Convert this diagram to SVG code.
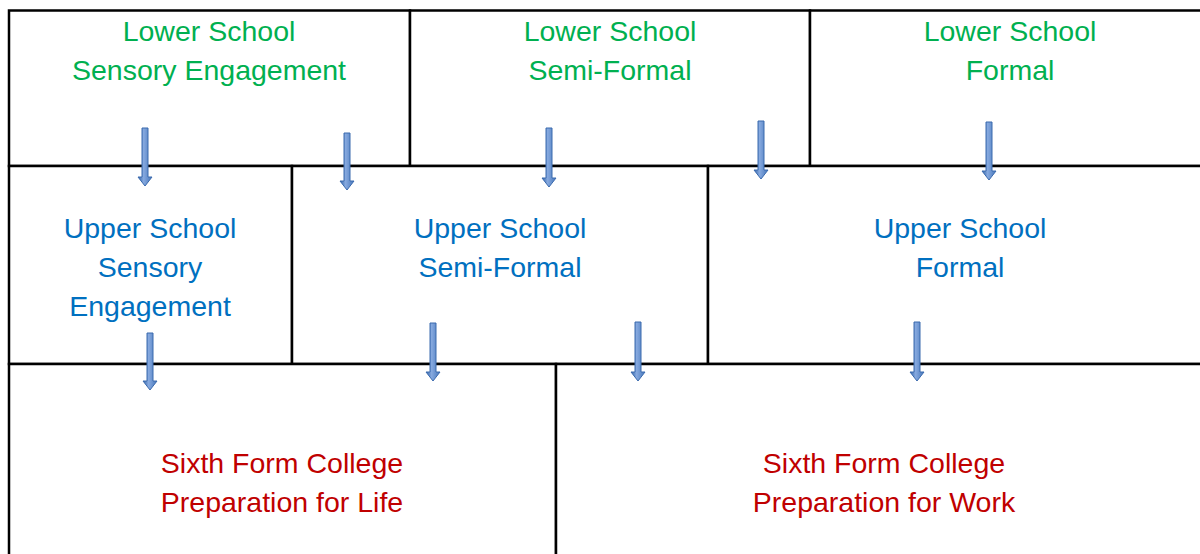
<svg xmlns="http://www.w3.org/2000/svg" width="1200" height="554" viewBox="0 0 1200 554">
<defs>
<linearGradient id="ag" x1="0" y1="0" x2="1" y2="0">
<stop offset="0" stop-color="#3464a8"/>
<stop offset="0.4" stop-color="#86a9df"/>
<stop offset="1" stop-color="#4676ba"/>
</linearGradient>
<style>
.box{fill:#ffffff;stroke:#000000;stroke-width:2.5}
.t{font-family:"Liberation Sans",Arial,sans-serif;font-size:28.5px;text-anchor:middle}
.g{fill:#00b050}
.b{fill:#0070c0}
.r{fill:#c00000}
.arr{fill:url(#ag);stroke:#3a6aae;stroke-width:1}
</style>
</defs>
<rect x="0" y="0" width="1200" height="554" fill="#ffffff"/>
<g id="lower-sensory">
<rect class="box" x="9" y="10.5" width="401" height="155.5"/>
<text class="t g" x="209" y="41">Lower School</text>
<text class="t g" x="209" y="80">Sensory Engagement</text>
</g>
<g id="lower-semiformal">
<rect class="box" x="410" y="10.5" width="400" height="155.5"/>
<text class="t g" x="610" y="41">Lower School</text>
<text class="t g" x="610" y="80">Semi-Formal</text>
</g>
<g id="lower-formal">
<rect class="box" x="810" y="10.5" width="400" height="155.5"/>
<text class="t g" x="1010" y="41">Lower School</text>
<text class="t g" x="1010" y="80">Formal</text>
</g>
<g id="upper-sensory">
<rect class="box" x="9" y="166" width="283" height="198"/>
<text class="t b" x="150" y="238">Upper School</text>
<text class="t b" x="150" y="277">Sensory</text>
<text class="t b" x="150" y="316">Engagement</text>
</g>
<g id="upper-semiformal">
<rect class="box" x="292" y="166" width="416" height="198"/>
<text class="t b" x="500" y="238">Upper School</text>
<text class="t b" x="500" y="277">Semi-Formal</text>
</g>
<g id="upper-formal">
<rect class="box" x="708" y="166" width="502" height="198"/>
<text class="t b" x="960" y="238">Upper School</text>
<text class="t b" x="960" y="277">Formal</text>
</g>
<g id="sixth-life">
<rect class="box" x="9" y="364" width="547" height="200"/>
<text class="t r" x="282" y="473">Sixth Form College</text>
<text class="t r" x="282" y="512">Preparation for Life</text>
</g>
<g id="sixth-work">
<rect class="box" x="556" y="364" width="654" height="200"/>
<text class="t r" x="884" y="473">Sixth Form College</text>
<text class="t r" x="884" y="512">Preparation for Work</text>
</g>
<g id="connectors">
<path class="arr" d="M142,128 H148 V177 H152 L145,186 L138,177 H142 Z"/>
<path class="arr" d="M344,133 H350 V181 H354 L347,190 L340,181 H344 Z"/>
<path class="arr" d="M546,128 H552 V178 H556 L549,187 L542,178 H546 Z"/>
<path class="arr" d="M758,121 H764 V170 H768 L761,179 L754,170 H758 Z"/>
<path class="arr" d="M986,122 H992 V171 H996 L989,180 L982,171 H986 Z"/>
<path class="arr" d="M147,333 H153 V381 H157 L150,390 L143,381 H147 Z"/>
<path class="arr" d="M430,323 H436 V372 H440 L433,381 L426,372 H430 Z"/>
<path class="arr" d="M635,322 H641 V372 H645 L638,381 L631,372 H635 Z"/>
<path class="arr" d="M914,322 H920 V372 H924 L917,381 L910,372 H914 Z"/>
</g>
</svg>
